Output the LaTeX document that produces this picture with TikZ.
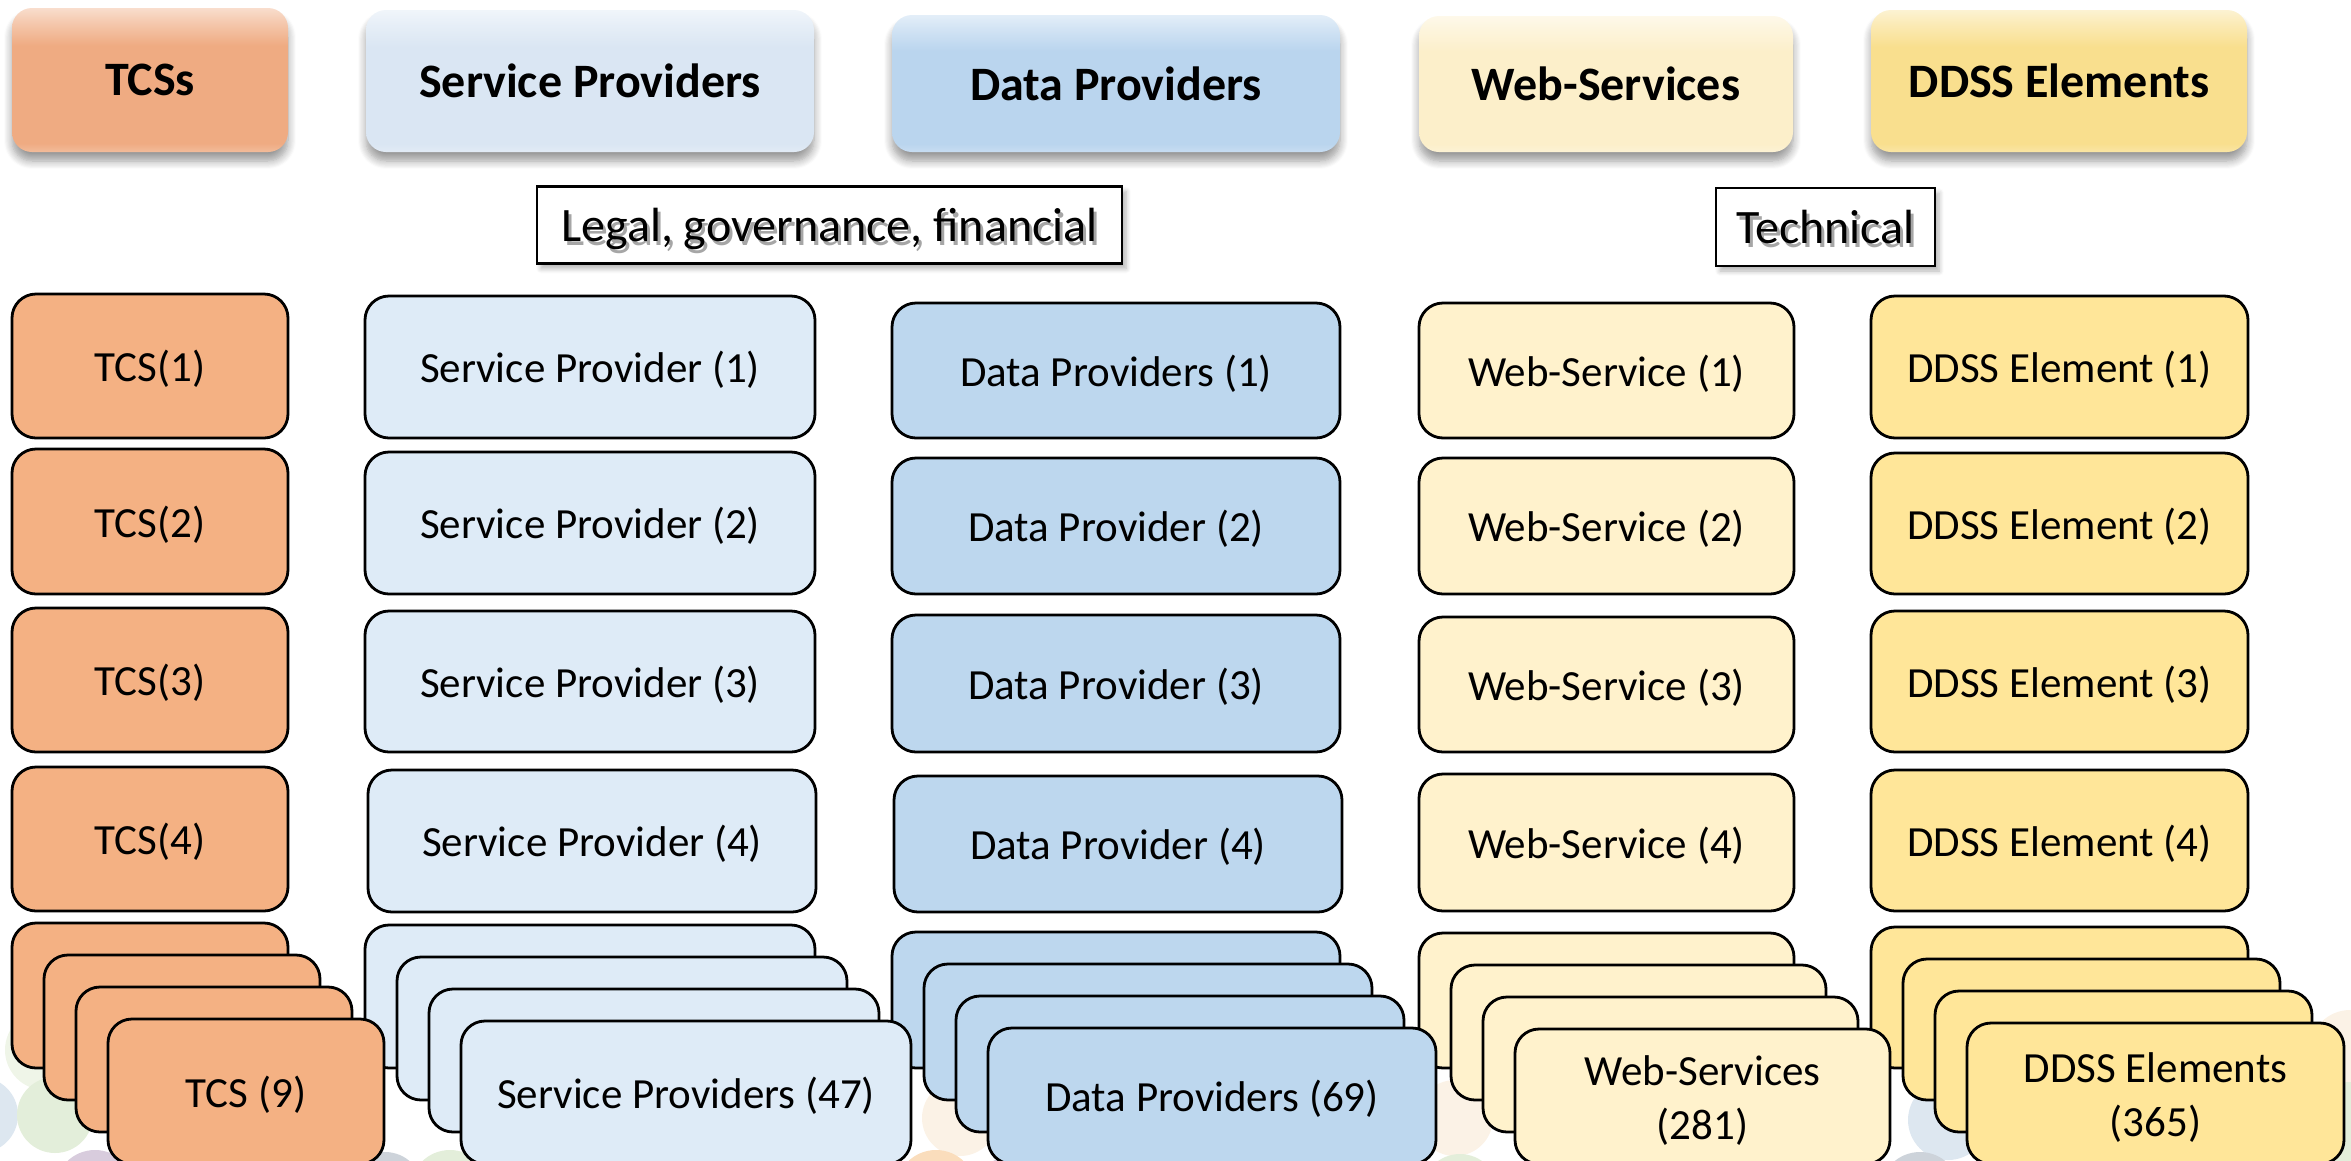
\documentclass[tikz,border=0pt]{standalone}
\usepackage{fontspec}
\setmainfont{Carlito}
\usetikzlibrary{shadows.blur}

% fills of the item boxes
\definecolor{tcsfill}{HTML}{F4B183}
\definecolor{spfill}{HTML}{DEEBF7}
\definecolor{dpfill}{HTML}{BDD7EE}
\definecolor{wsfill}{HTML}{FFF2CC}
\definecolor{ddfill}{HTML}{FFE699}
% base colours of the glossy column heads
\definecolor{tcshead}{HTML}{EFAB82}
\definecolor{sphead}{HTML}{DAE6F3}
\definecolor{dphead}{HTML}{BAD5EE}
\definecolor{wshead}{HTML}{FCEFCA}
\definecolor{ddhead}{HTML}{F9DF8E}
% faint decorative dots along the bottom
\definecolor{dotgreen}{HTML}{E3EEDA}
\definecolor{dotpale}{HTML}{EFF5E8}
\definecolor{dotblue}{HTML}{DDE7F0}
\definecolor{dotpurple}{HTML}{D8CCDD}
\definecolor{dotgrey}{HTML}{CDD3DA}
\definecolor{dotorange}{HTML}{FADDBC}
\definecolor{dotbeige}{HTML}{FBF2E6}

% glossy head: light band on top, slightly lighter bottom rim
\newcommand\headshading[2]{%
  \pgfdeclareverticalshading{#1}{100bp}{%
    color(0bp)=(#2!80!white); color(25bp)=(#2!80!white); color(28bp)=(#2);
    color(62bp)=(#2); color(70bp)=(#2!65!white); color(75bp)=(#2!40!white);
    color(100bp)=(#2!40!white)}}
\headshading{tcsshade}{tcshead}
\headshading{spshade}{sphead}
\headshading{dpshade}{dphead}
\headshading{wsshade}{wshead}
\headshading{ddshade}{ddhead}

% text with a soft grey shadow behind it
\newcommand\shadowtext[1]{\leavevmode\rlap{\kern3pt\raisebox{-4pt}{\textcolor{black!35}{#1}}}#1}
% centred lines, set a little below the optical middle of their box
\newcommand\lowered[1]{\raisebox{-5pt}[\height][\depth]{\begin{tabular}{@{}c@{}}#1\end{tabular}}}

\tikzset{
  cellbox/.style={draw=black, line width=2.8pt, rounded corners=24pt,
    inner sep=0pt, outer sep=0pt, align=center,
    font=\fontsize{43}{54}\selectfont},
  tcscell/.style={cellbox, fill=tcsfill},
  spcell/.style={cellbox, fill=spfill},
  dpcell/.style={cellbox, fill=dpfill},
  wscell/.style={cellbox, fill=wsfill},
  ddcell/.style={cellbox, fill=ddfill},
  headbox/.style={shade, rounded corners=20pt, inner sep=0pt, outer sep=0pt,
    font=\bfseries\fontsize{48}{56}\selectfont,
    blur shadow={shadow xshift=0pt, shadow yshift=-9pt,
      shadow blur radius=8pt, shadow opacity=40, shadow blur steps=8}},
  tagbox/.style={draw=black, line width=2.2pt, fill=white, inner sep=0pt,
    outer sep=0pt, font=\fontsize{48}{56}\selectfont,
    blur shadow={shadow xshift=4pt, shadow yshift=-5pt,
      shadow blur radius=5pt, shadow opacity=30, shadow blur steps=6}}
}

% box given by its left, top, right and bottom edges
\newcommand\cell[7]{%
  \node[#6, minimum width={(#4)*1pt-(#2)*1pt}, minimum height={(#5)*1pt-(#3)*1pt}]
    (#1) at ({((#2)+(#4))/2},{((#3)+(#5))/2}) {\lowered{#7}};}
% pile of four boxes, each shifted right and down; only the front one is labelled
\newcommand\pile[7]{%
  \cell{#1a}{#2}{#3}{#4}{#5}{#6}{}
  \cell{#1b}{#2+32}{#3+32}{#4+32}{#5+32}{#6}{}
  \cell{#1c}{#2+64}{#3+64}{#4+64}{#5+64}{#6}{}
  \cell{#1all}{#2+96}{#3+96}{#4+96}{#5+96}{#6}{#7}}

\begin{document}
\begin{tikzpicture}[x=1pt, y=-1pt]
\useasboundingbox (0,0) rectangle (2351,1160);

% decorative dots
\begin{scope}
  \fill[dotpale]   (45,1050)   circle[radius=40pt];
  \fill[dotblue]   (-20,1115)  circle[radius=38pt];
  \fill[dotgreen]  (55,1115)   circle[radius=38pt];
  \fill[dotpurple] (95,1190)   circle[radius=40pt];
  \fill[dotgrey]   (385,1190)  circle[radius=38pt];
  \fill[dotgreen]  (450,1190)  circle[radius=40pt];
  \fill[dotbeige]  (960,1118)  circle[radius=38pt];
  \fill[dotorange] (936,1190)  circle[radius=40pt];
  \fill[dotpurple] (1010,1195) circle[radius=38pt];
  \fill[dotbeige]  (1455,1118) circle[radius=38pt];
  \fill[dotgreen]  (1460,1192) circle[radius=38pt];
  \fill[dotblue]   (1948,1120) circle[radius=40pt];
  \fill[dotgrey]   (1920,1192) circle[radius=40pt];
  \fill[dotbeige]  (2350,1050) circle[radius=40pt];
  \fill[dotgreen]  (2350,1120) circle[radius=38pt];
  \fill[dotgreen]  (2345,1192) circle[radius=38pt];
\end{scope}

% column heads
\node[headbox, shading=tcsshade, minimum width=276pt, minimum height=144pt] (hdtcs) at (150,80) {TCSs};
\node[headbox, shading=spshade, minimum width=448pt, minimum height=142pt] (hdsp) at (590,81) {Service Providers};
\node[headbox, shading=dpshade, minimum width=448pt, minimum height=137pt] (hddp) at (1116,83.5) {Data Providers};
\node[headbox, shading=wsshade, minimum width=374pt, minimum height=136pt] (hdws) at (1606,84) {Web-Services};
\node[headbox, shading=ddshade, minimum width=376pt, minimum height=142pt] (hddd) at (2059,81) {DDSS Elements};

% grouping tags
\node[tagbox, minimum width=585pt, minimum height=77pt] (legal) at (829.5,225) {\lowered{\shadowtext{Legal, governance, financial}}};
\node[tagbox, minimum width=219pt, minimum height=78pt] (technical) at (1825.5,227) {\lowered{\shadowtext{Technical}}};

% DDSS elements
\cell{dd1}{1871}{296}{2248}{438}{ddcell}{DDSS Element (1)}
\cell{dd2}{1871}{453}{2248}{594}{ddcell}{DDSS Element (2)}
\cell{dd3}{1871}{611}{2248}{752}{ddcell}{DDSS Element (3)}
\cell{dd4}{1871}{770}{2248}{911}{ddcell}{DDSS Element (4)}
\pile{dd}{1871}{927}{2248}{1068}{ddcell}{DDSS Elements\\(365)}

% web services
\cell{ws1}{1419}{303}{1794}{438}{wscell}{Web-Service (1)}
\cell{ws2}{1419}{458}{1794}{594}{wscell}{Web-Service (2)}
\cell{ws3}{1419}{617}{1794}{752}{wscell}{Web-Service (3)}
\cell{ws4}{1419}{774}{1794}{911}{wscell}{Web-Service (4)}
\pile{ws}{1419}{933}{1794}{1068}{wscell}{Web-Services\\(281)}

% data providers
\cell{dp1}{892}{303}{1340}{438}{dpcell}{Data Providers (1)}
\cell{dp2}{892}{458}{1340}{594}{dpcell}{Data Provider (2)}
\cell{dp3}{892}{615}{1340}{752}{dpcell}{Data Provider (3)}
\cell{dp4}{894}{776}{1342}{912}{dpcell}{Data Provider (4)}
\pile{dp}{892}{932}{1340}{1068}{dpcell}{Data Providers (69)}

% service providers
\cell{sp1}{365}{296}{815}{438}{spcell}{Service Provider (1)}
\cell{sp2}{365}{452}{815}{594}{spcell}{Service Provider (2)}
\cell{sp3}{365}{611}{815}{752}{spcell}{Service Provider (3)}
\cell{sp4}{368}{770}{816}{912}{spcell}{Service Provider (4)}
\pile{sp}{365}{925}{815}{1068}{spcell}{Service Providers (47)}

% TCSs
\cell{tcs1}{12}{294}{288}{438}{tcscell}{TCS(1)}
\cell{tcs2}{12}{449}{288}{594}{tcscell}{TCS(2)}
\cell{tcs3}{12}{608}{288}{752}{tcscell}{TCS(3)}
\cell{tcs4}{12}{767}{288}{911}{tcscell}{TCS(4)}
\pile{tcs}{12}{923}{288}{1068}{tcscell}{TCS (9)}
\end{tikzpicture}
\end{document}
